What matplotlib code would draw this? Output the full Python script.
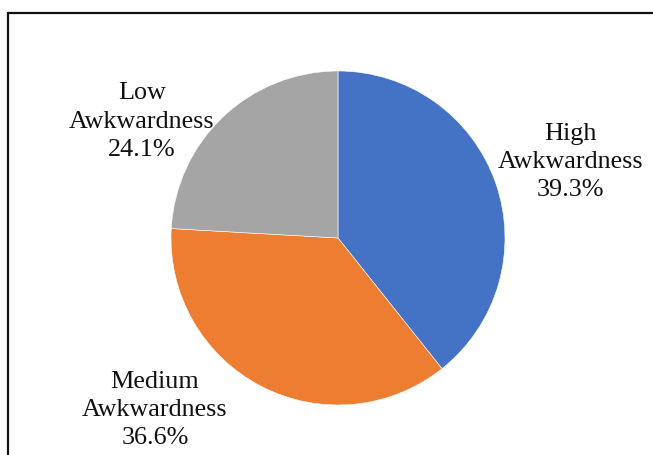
import matplotlib.pyplot as plt
from matplotlib.patches import Rectangle

categories = ["High\nAwkwardness", "Medium\nAwkwardness", "Low\nAwkwardness"]
shares = [39.3, 36.6, 24.1]
colors = ["#4472C4", "#ED7D31", "#A5A5A5"]
# label centres in pie-radius units
label_pos = [(1.39, 0.455), (-1.096, -1.03), (-1.174, 0.695)]

plt.rcParams['font.family'] = ['Liberation Serif', 'DejaVu Serif']

fig = plt.figure(figsize=(6.53, 4.55), dpi=100)
ax = fig.add_axes([171 / 653, 50 / 455, 334 / 653, 334 / 455])
ax.pie(shares, colors=colors, startangle=90, counterclock=False,
       wedgeprops=dict(edgecolor='white', linewidth=0.4))
ax.set_xlim(-1, 1)
ax.set_ylim(-1, 1)

for name, val, (x, y) in zip(categories, shares, label_pos):
    ax.text(x, y, "%s\n%.1f%%" % (name, val), ha='center', va='center',
            fontsize=18.8, linespacing=1.38, color='#111111')

# chart frame, runs off the right and bottom edges
fig.add_artist(Rectangle((8 / 653, -0.1), 1.2, 1 - 13 / 455 + 0.1,
                         transform=fig.transFigure, fill=False,
                         edgecolor='#111111', linewidth=1.6))

fig.savefig("out.png", dpi=100)
